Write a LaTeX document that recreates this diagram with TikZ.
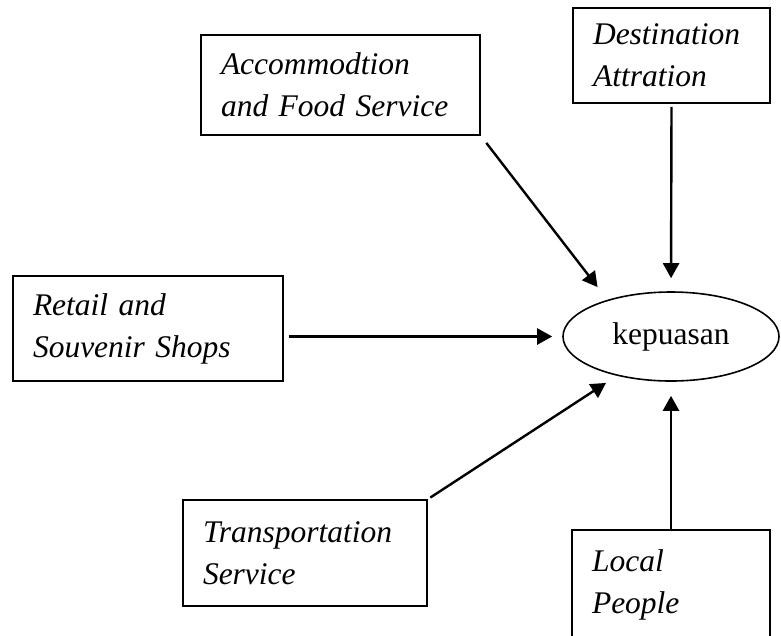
\documentclass[tikz,border=0pt]{standalone}
\usepackage{fontspec}
\setmainfont{Liberation Serif}
\usetikzlibrary{arrows.meta,shapes.geometric}
\tikzset{
  factor/.style={draw, line width=1.6pt, font=\fontsize{31.5}{42}\selectfont\itshape,
    align=left, inner xsep=20pt, inner ysep=0pt},
  target/.style={draw, ellipse, line width=1.6pt, font=\fontsize{31.5}{42}\selectfont,
    minimum width=216pt, minimum height=89pt, inner sep=0pt},
  link/.style={-{Triangle[length=15pt,width=16pt]}, line width=2.4pt},
}

\begin{document}
\begin{tikzpicture}[x=1pt,y=-1pt]
  \useasboundingbox (0,0) rectangle (781,635);
  % the five factors
  \node[factor, text width=239pt, minimum height=100pt] (acc) at (340.5,85)
    {Accommodtion\\and Food Service};
  \node[factor, text width=157pt, minimum height=95pt] (dest) at (671.5,55.5)
    {Destination\\Attration};
  \node[factor, text width=230pt, minimum height=105pt] (ret) at (148,328.5)
    {Retail and\\Souvenir Shops};
  \node[factor, text width=204pt, minimum height=106pt] (trn) at (305,553)
    {Transportation\\Service};
  \node[factor, text width=158pt, minimum height=110pt] (loc) at (671,585)
    {Local\\People};
  % outcome
  \node[target] (kep) at (671,336.5) {kepuasan};
  % arrows into the outcome
  \draw[link, shorten <=9pt, shorten >=16pt] (acc.south east) -- (kep.150);
  \draw[link, shorten <=3pt, shorten >=13pt] (dest.south) -- (kep.north);
  \draw[link, shorten <=5pt, shorten >=10pt] (ret.east |- kep.west) -- (kep.west);
  \draw[link, shorten <=3pt, shorten >=13pt] (trn.north east) -- (kep.216);
  \draw[link, shorten >=14pt] (loc.north) -- (kep.south);
\end{tikzpicture}
\end{document}
